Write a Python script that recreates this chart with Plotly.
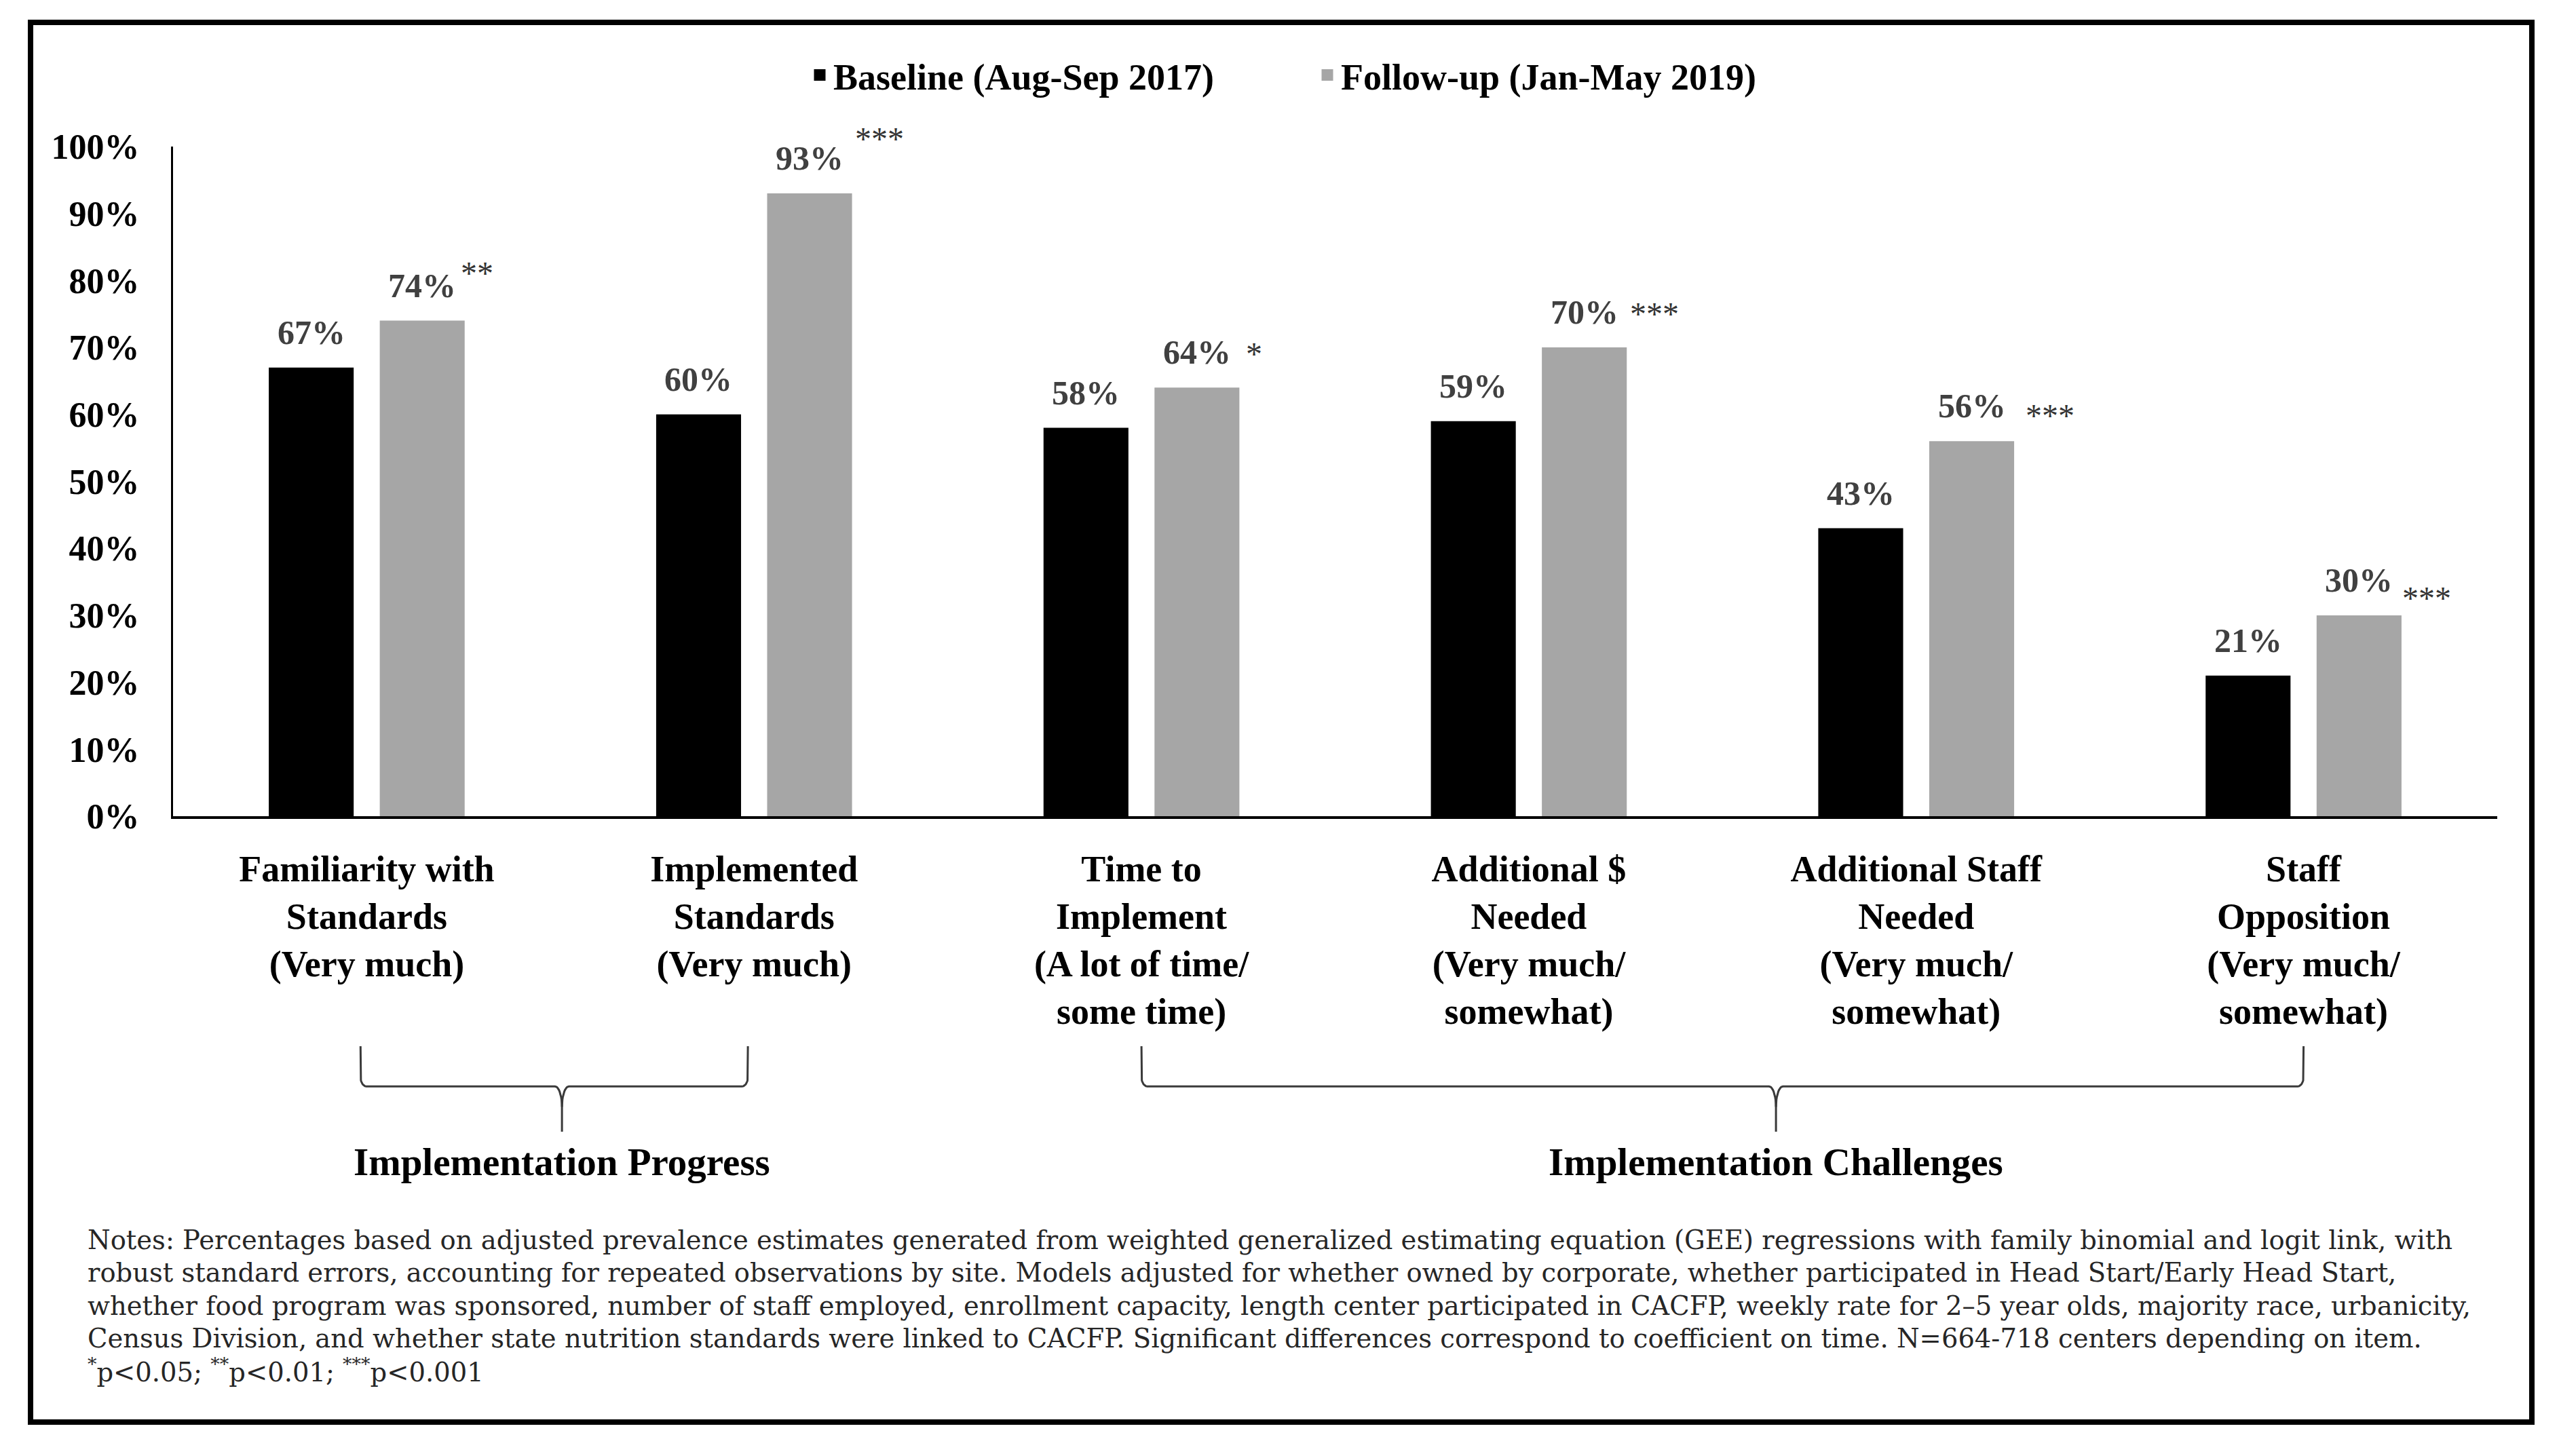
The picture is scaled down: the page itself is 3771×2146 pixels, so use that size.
import numpy as np
import plotly.graph_objects as go

# ---------------- data ----------------
categories = [
    "Familiarity with<br>Standards<br>(Very much)",
    "Implemented<br>Standards<br>(Very much)",
    "Time to<br>Implement<br>(A lot of time/<br>some time)",
    "Additional $<br>Needed<br>(Very much/<br>somewhat)",
    "Additional Staff<br>Needed<br>(Very much/<br>somewhat)",
    "Staff<br>Opposition<br>(Very much/<br>somewhat)",
]
baseline = [67, 60, 58, 59, 43, 21]
followup = [74, 93, 64, 70, 56, 30]
significance = ["**", "***", "*", "***", "***", "***"]
series_names = ["Baseline (Aug-Sep 2017)", "Follow-up (Jan-May 2019)"]
y_ticks = [0, 10, 20, 30, 40, 50, 60, 70, 80, 90, 100]
y_tick_labels = [f"{v}%" for v in y_ticks]
group_names = ["Implementation Progress", "Implementation Challenges"]
group_first = [0, 2]
group_last = [1, 5]

notes_lines = [
    "Notes: Percentages based on adjusted prevalence estimates generated from weighted generalized estimating equation (GEE) regressions with family binomial and logit link, with",
    "robust standard errors, accounting for repeated observations by site. Models adjusted for whether owned by corporate, whether participated in Head Start/Early Head Start,",
    "whether food program was sponsored, number of staff employed, enrollment capacity, length center participated in CACFP, weekly rate for 2\u20135 year olds, majority race, urbanicity,",
    "Census Division, and whether state nutrition standards were linked to CACFP. Significant differences correspond to coefficient on time. N=664-718 centers depending on item.",
    "<sup>*</sup>p&lt;0.05; <sup>**</sup>p&lt;0.01; <sup>***</sup>p&lt;0.001",
]

# ---------------- style / layout ----------------
W, H = 3771, 2146
ML, MR, MT, MB = 255, 91, 216, 60
PW, PH = W - ML - MR, H - MT - MB


def px(x):
    return (x - ML) / PW


def py(y):
    return (H - MB - y) / PH


FONT = "Liberation Serif"
NOTE_FONT = "DejaVu Serif"
COLORS = ["#000000", "#A6A6A6"]
BARGAP, GROUPGAP = 0.427, 0.235
half = (1 - BARGAP) / 4
star_dx = [55, 65, 70, 65, 77, 62]
star_dy = [70, 81, 50, 50, 38, 25]
stem_frac = [0.52, 0.546]
brace_shift = [-0.016, 0.0]
note_baselines = [1840, 1888, 1937, 1985, 2033]

xs = list(range(len(categories)))

fig = go.Figure()
fig.add_bar(x=xs, y=baseline, name=series_names[0], marker=dict(color=COLORS[0], line=dict(width=0)),
            hoverinfo="skip", showlegend=False, legendgroup="a")
fig.add_bar(x=xs, y=followup, name=series_names[1], marker=dict(color=COLORS[1], line=dict(width=0)),
            hoverinfo="skip", showlegend=False, legendgroup="b")

# legend-only entries (thick outline gives a larger legend swatch); placed off-range on hidden axes
for nm, col, grp in zip(series_names, COLORS, ["a", "b"]):
    fig.add_bar(x=[-10], y=[1], name=nm, xaxis="x2", yaxis="y2", legendgroup=grp,
                marker=dict(color=col, line=dict(color=col, width=5)), hoverinfo="skip")


# braces under the category labels
def brace_pts(x0, x1, xm, yh=0.53, top=1.0, rx=0.015, ry=0.11, nx=0.018, ny=0.24):
    t = np.linspace(0, np.pi / 2, 14)
    bx, by = [], []
    bx += [x0]; by += [top]
    bx += list(x0 + rx * (1 - np.cos(t))); by += list(yh + ry * (1 - np.sin(t)))
    bx += list(xm - nx + nx * np.sin(t)); by += list(yh - ny + ny * np.cos(t))
    bx += [xm]; by += [0.0]
    bx += [None]; by += [None]
    bx += [x1]; by += [top]
    bx += list(x1 - rx * (1 - np.cos(t))); by += list(yh + ry * (1 - np.sin(t)))
    bx += list(xm + nx - nx * np.sin(t)); by += list(yh - ny + ny * np.cos(t))
    bx += [None]; by += [None]
    return bx, by


BX, BY = [], []
stems = []
for a, b, f, s in zip(group_first, group_last, stem_frac, brace_shift):
    a2, b2 = a + s, b + s
    xm = a2 + (b2 - a2) * f
    stems.append(xm)
    bx, by = brace_pts(a2, b2, xm)
    BX += bx
    BY += by

fig.add_scatter(x=BX, y=BY, xaxis="x2", yaxis="y2", mode="lines",
                line=dict(color="#3a3a3a", width=3), showlegend=False, hoverinfo="skip",
                connectgaps=False)

ann = []
lab_font = dict(family=FONT, size=50, color="#404040")
for i, v in enumerate(baseline):
    ann.append(dict(x=i - half, y=v, xref="x", yref="y", text=f"<b>{v}%</b>", showarrow=False,
                    yanchor="bottom", yshift=22, font=lab_font))
for i, v in enumerate(followup):
    ann.append(dict(x=i + half, y=v, xref="x", yref="y", text=f"<b>{v}%</b>", showarrow=False,
                    yanchor="bottom", yshift=22, font=lab_font))
    ann.append(dict(x=i + half, y=v, xref="x", yref="y", text=significance[i], showarrow=False,
                    xanchor="left", yanchor="middle", xshift=star_dx[i], yshift=star_dy[i],
                    font=dict(family=FONT, size=48, color="#333333")))

for name, xm in zip(group_names, stems):
    ann.append(dict(x=xm, y=py(1712), xref="x2", yref="paper", text=f"<b>{name}</b>",
                    showarrow=False, yanchor="middle",
                    font=dict(family=FONT, size=57, color="#000000")))

for line, base in zip(notes_lines, note_baselines):
    ann.append(dict(x=px(127), y=py(base - 13), xref="paper", yref="paper", xanchor="left",
                    yanchor="middle", align="left", showarrow=False, text=line,
                    font=dict(family=NOTE_FONT, size=38.5, color="#262626")))

fig.update_layout(
    width=W, height=H,
    margin=dict(l=ML, r=MR, t=MT, b=MB, pad=0),
    paper_bgcolor="white", plot_bgcolor="white",
    barmode="group", bargap=BARGAP, bargroupgap=GROUPGAP,
    font=dict(family=FONT, color="#000000"),
    showlegend=True,
    legend=dict(orientation="h", x=px(1188), xanchor="left", y=py(111), yanchor="middle",
                entrywidth=703, entrywidthmode="pixels",
                font=dict(family=FONT, size=54, color="#000000", weight="bold"),
                bgcolor="rgba(0,0,0,0)", traceorder="normal"),
    xaxis=dict(domain=[0, 1], range=[-0.5, len(categories) - 0.5], tickmode="array", tickvals=xs,
               ticktext=categories, showline=True, linecolor="#000000", linewidth=4,
               ticks="", showgrid=False, zeroline=False, ticklabelstandoff=27,
               tickfont=dict(family=FONT, size=54, color="#000000", weight="bold"),
               anchor="y"),
    yaxis=dict(domain=[py(1203), 1], range=[0, 100], tickmode="array", tickvals=y_ticks,
               ticktext=y_tick_labels, showline=True, linecolor="#000000", linewidth=3, ticks="",
               showgrid=False, zeroline=False, ticklabelstandoff=36,
               tickfont=dict(family=FONT, size=52, color="#000000", weight="bold"),
               anchor="x"),
    xaxis2=dict(matches="x", anchor="y2", visible=False, domain=[0, 1]),
    yaxis2=dict(domain=[py(1668), py(1542)], range=[0, 1], visible=False, anchor="x2"),
    annotations=ann,
    shapes=[dict(type="rect", xref="paper", yref="paper", x0=px(45), x1=px(3731), y0=py(2096),
                 y1=py(33), line=dict(color="#000000", width=8), fillcolor="rgba(0,0,0,0)",
                 layer="below")],
)

fig.write_html("out.html", config={"displayModeBar": False},
               post_script="document.body.style.margin='0';")
